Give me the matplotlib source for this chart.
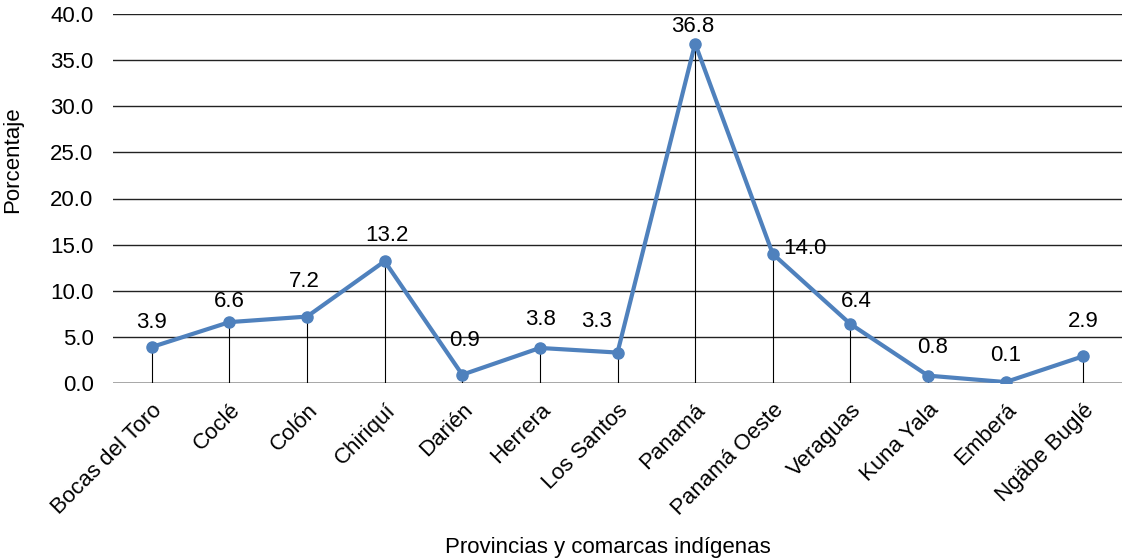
import matplotlib
matplotlib.use("Agg")
import matplotlib.pyplot as plt

categories = ["Bocas del Toro", "Coclé", "Colón", "Chiriquí", "Darién", "Herrera",
              "Los Santos", "Panamá", "Panamá Oeste", "Veraguas", "Kuna Yala",
              "Emberá", "Ngäbe Buglé"]
values = [3.9, 6.6, 7.2, 13.2, 0.9, 3.8, 3.3, 36.8, 14.0, 6.4, 0.8, 0.1, 2.9]
yticks = [0, 5, 10, 15, 20, 25, 30, 35, 40]

# label offsets in pixels (dx, dy)
label_offsets = [(0, 25), (0, 21), (-3, 35), (2, 26), (2, 34), (1, 28),
                 (-21, 31), (-2, 17), (32, 5), (6, 22), (5, 28), (0, 27), (0, 35)]

plt.rcParams['font.family'] = ['Liberation Sans', 'DejaVu Sans']
FS = 16

fig = plt.figure(figsize=(11.26, 5.59), dpi=100)
ax = fig.add_axes([113/1126, 1-383/559, 1009/1126, 369/559])

x = list(range(len(categories)))
ax.set_xlim(-0.5, len(categories) - 0.5)
ax.set_ylim(0, 40)
ax.set_yticks(yticks)
ax.set_yticklabels([f"{v:.1f}" for v in yticks], fontsize=FS)
ax.yaxis.grid(True, color='#222222', linewidth=1)
ax.set_axisbelow(True)
for s in ax.spines.values():
    s.set_visible(False)
ax.axhline(0, color='black', linewidth=1, zorder=1)
ax.tick_params(axis='both', length=0)
ax.tick_params(axis='y', pad=14)

ax.vlines(x, 0, values, color='black', linewidth=0.8, zorder=2)
ax.plot(x, values, color='#4F81BD', linewidth=3, marker='o', markersize=8, zorder=3)

px2pt = 72 / 100
for xi, v, (dx, dy) in zip(x, values, label_offsets):
    ax.annotate(f"{v:.1f}", (xi, v), xytext=(dx * px2pt, dy * px2pt),
                textcoords='offset points', ha='center', va='center', fontsize=FS)

ax.set_xticks(x)
ax.set_xticklabels(categories, rotation=45, ha='right', rotation_mode='anchor', fontsize=FS)
ax.tick_params(axis='x', pad=12)

fig.text(608/1126, 1-548/559, "Provincias y comarcas indígenas", ha='center', va='center', fontsize=FS)
fig.text(13/1126, 1-160/559, "Porcentaje", rotation=90, ha='center', va='center', fontsize=FS)

fig.savefig("out.png", dpi=100)
